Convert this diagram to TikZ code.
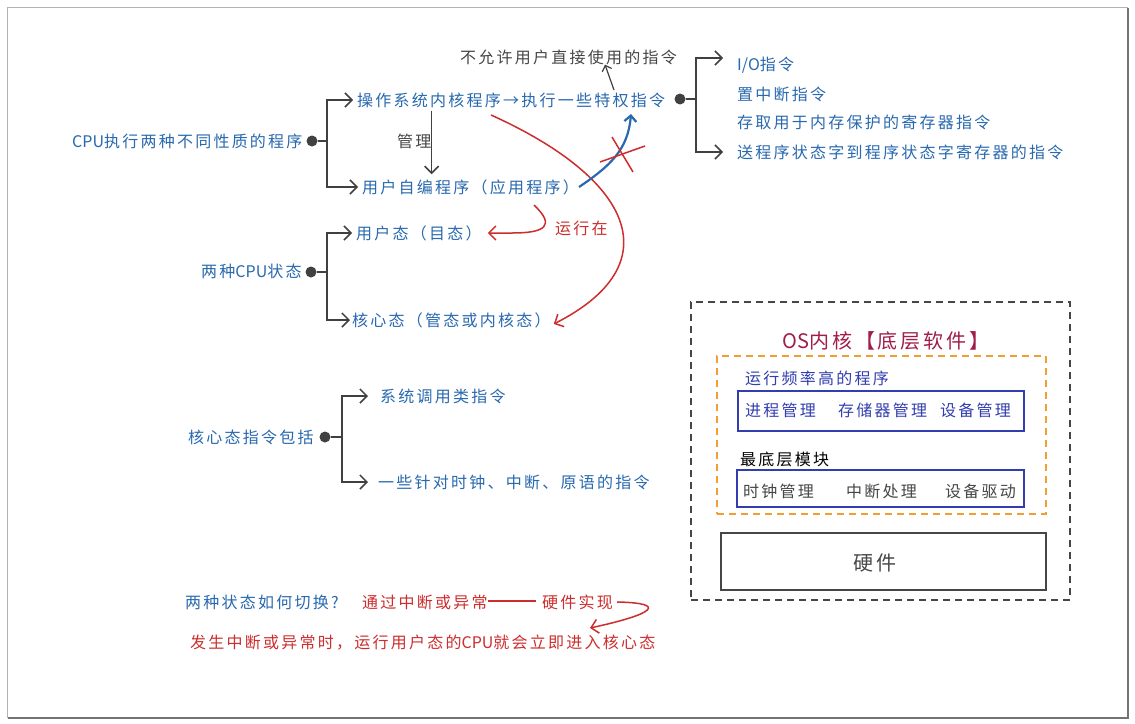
\documentclass[tikz,border=0pt]{standalone}
\usepackage{fontspec}
\newfontfamily\cjk[LetterSpace=14]{Noto Sans CJK SC}
\newfontfamily\cjkn{Noto Sans CJK SC}
\newcommand\lat[1]{{\cjkn #1}}
\usetikzlibrary{arrows.meta}
\definecolor{tblue}{RGB}{40,105,175}
\definecolor{tred}{RGB}{205,45,45}
\definecolor{dgray}{RGB}{64,64,64}
\definecolor{tgray}{RGB}{70,70,70}
\definecolor{maroon}{RGB}{160,30,75}
\definecolor{indigo}{RGB}{50,62,175}
\definecolor{orng}{RGB}{240,160,50}
\begin{document}
\begin{tikzpicture}[x=1pt,y=-1pt,
  txt/.style={font=\cjk\fontsize{16}{19}\selectfont, inner sep=0pt, anchor=west},
  bluet/.style={txt, text=tblue},
  redt/.style={txt, text=tred},
  grayt/.style={txt, text=tgray},
  dotn/.style={circle, fill=dgray, inner sep=0pt, minimum size=11pt},
  arr/.style={draw=dgray, line width=1.5pt, shorten >=4pt, -{Straight Barb[length=7pt,width=14pt]}},
  redarr/.style={draw=tred, line width=1.5pt, -{Straight Barb[length=7pt,width=14pt]}},
  redline/.style={draw=tred, line width=1.5pt},
  boxn/.style={inner sep=0pt}
]
\useasboundingbox (0,0) rectangle (1135,723);
\fill[white] (0,0) rectangle (1135,723);
% frame
\draw[gray!60, line width=1pt] (7,7) rectangle (1127,717);
\draw[gray!90!black, line width=1.4pt] (1128,8) -- (1128,718) -- (8,718);

% ---- group 1
\node[bluet] (cpu) at (72,141) {\lat{CPU}执行两种不同性质的程序};
\node[dotn] (dot1) at (312,141) {};
\node[bluet] (os) at (357,100) {操作系统内核程序→执行一些特权指令};
\node[bluet] (app) at (362,187) {用户自编程序（应用程序）};
\node[grayt] (mg) at (397,141) {管理};
\draw[arr] (dot1) -- ++(15,0) |- (os.west);
\draw[arr] (dot1) -- ++(15,0) |- (app.west);
\draw[arr, shorten <=3pt, shorten >=5pt] (os.south -| mg.east) -- (app.north -| mg.east);

% ---- privileged instructions
\node[dotn] (dot4) at (680,99) {};
\node[bluet] (io) at (737,65) {\lat{I/O}指令};
\node[bluet] (zd) at (737,94) {置中断指令};
\node[bluet] (cq) at (737,122) {存取用于内存保护的寄存器指令};
\node[bluet] (sc) at (737,152) {送程序状态字到程序状态字寄存器的指令};
\draw[arr, shorten >=14pt] (dot4) -- ++(16,0) |- ([yshift=7pt]io.west);
\draw[arr, shorten >=14pt] (dot4) -- ++(16,0) |- (sc.west);
\node[grayt] (na) at (460,57) {不允许用户直接使用的指令};
\coordinate (naS) at (614,90);
\draw[arr, line width=1.2pt, shorten >=0pt, -{Straight Barb[length=5pt,width=10pt]}] (naS) -- (na.south -| 605,0);

% ---- CPU states
\node[bluet] (sta) at (201,271) {两种\lat{CPU}状态};
\node[dotn] (dot2) at (311,272) {};
\node[bluet] (ud) at (356,233) {用户态（目态）};
\node[bluet] (ks) at (352,320) {核心态（管态或内核态）};
\draw[arr] (dot2) -- ++(16,0) |- (ud.west);
\draw[arr, shorten >=2pt] (dot2) -- ++(16,0) |- (ks.west);
\node[redt] (yx) at (555,228) {运行在};

% red connections
\coordinate (rs) at (491,115);
\draw[redarr] (rs) .. controls (635,180) and (670,265) .. ([xshift=3pt,yshift=-4pt]ks.east);
\coordinate (ra) at (534,205);
\draw[redarr] (ra) .. controls (556,226) and (545,233) .. (512,233) -- ([xshift=6pt]ud.east);

% blue crossed arrow
\coordinate (bt) at (631,114);
\draw[draw=tblue, line width=2.2pt, -{Straight Barb[length=6pt,width=12pt]}] (app.east) .. controls (610,166) and (628,150) .. (bt);
\draw[redline] (600,162) -- (645,146);
\draw[redline] (612,137) -- (633,172);

% ---- kernel instructions
\node[bluet] (kz) at (188,437) {核心态指令包括};
\node[dotn] (dot3) at (325,437) {};
\node[bluet] (xt) at (380,396) {系统调用类指令};
\node[bluet] (yx2) at (378,482) {一些针对时钟、中断、原语的指令};
\draw[arr, shorten >=12pt] (dot3) -- ++(17,0) |- (xt.west);
\draw[arr, shorten >=10pt] (dot3) -- ++(17,0) |- (yx2.west);

% ---- switching
\node[bluet] (q) at (185,602) {两种状态如何切换?};
\node[redt] (tg) at (362,602) {通过中断或异常};
\node[redt] (hw) at (542,602) {硬件实现};
\node[redt] (fs) at (190,643) {发生中断或异常时，运行用户态的\lat{CPU}就会立即进入核心态};
\draw[redline] ([yshift=1pt]tg.east) -- ([yshift=1pt,xshift=-6pt]hw.west);
\coordinate (sw) at (590,628);
\draw[redarr] ([xshift=4pt]hw.east) .. controls (668,603) and (655,614) .. (sw);

% ---- OS kernel box
\node[boxn, draw=tgray, line width=1.3pt, dash pattern=on 7pt off 5pt, minimum width=379pt, minimum height=298pt] (osbox) at (880.5,451) {};
\node[font=\cjk\fontsize{20}{24}\selectfont, text=maroon, inner sep=0pt] (ost) at (886,341) {\lat{OS}内核【底层软件】};
\node[boxn, draw=orng, line width=1.4pt, dash pattern=on 7pt off 5pt, minimum width=329pt, minimum height=158pt] (orb) at (881.5,435) {};
\node[txt, text=indigo] (hf) at (745,378) {运行频率高的程序};
\node[boxn, draw=indigo, line width=1.7pt, minimum width=286pt, minimum height=40pt] (b1) at (881,411) {};
\node[txt, text=indigo] (p1) at (745,410) {进程管理};
\node[txt, text=indigo] (p2) at (838,410) {存储器管理};
\node[txt, text=indigo] (p3) at (940,410) {设备管理};
\node[txt, text=black] (zd2) at (740,459) {最底层模块};
\node[boxn, draw=indigo, line width=1.7pt, minimum width=287pt, minimum height=37pt] (b2) at (880.5,488.5) {};
\node[txt, text=tgray] (q1) at (743,491) {时钟管理};
\node[txt, text=tgray] (q2) at (846,491) {中断处理};
\node[txt, text=tgray] (q3) at (945,491) {设备驱动};
\node[boxn, draw=tgray, line width=1.7pt, minimum width=325pt, minimum height=57pt] (hwb) at (883.5,561.5) {};
\node[font=\cjk\fontsize{20}{24}\selectfont, text=tgray, inner sep=0pt] (hwt) at (875,563) {硬件};
\end{tikzpicture}
\end{document}
